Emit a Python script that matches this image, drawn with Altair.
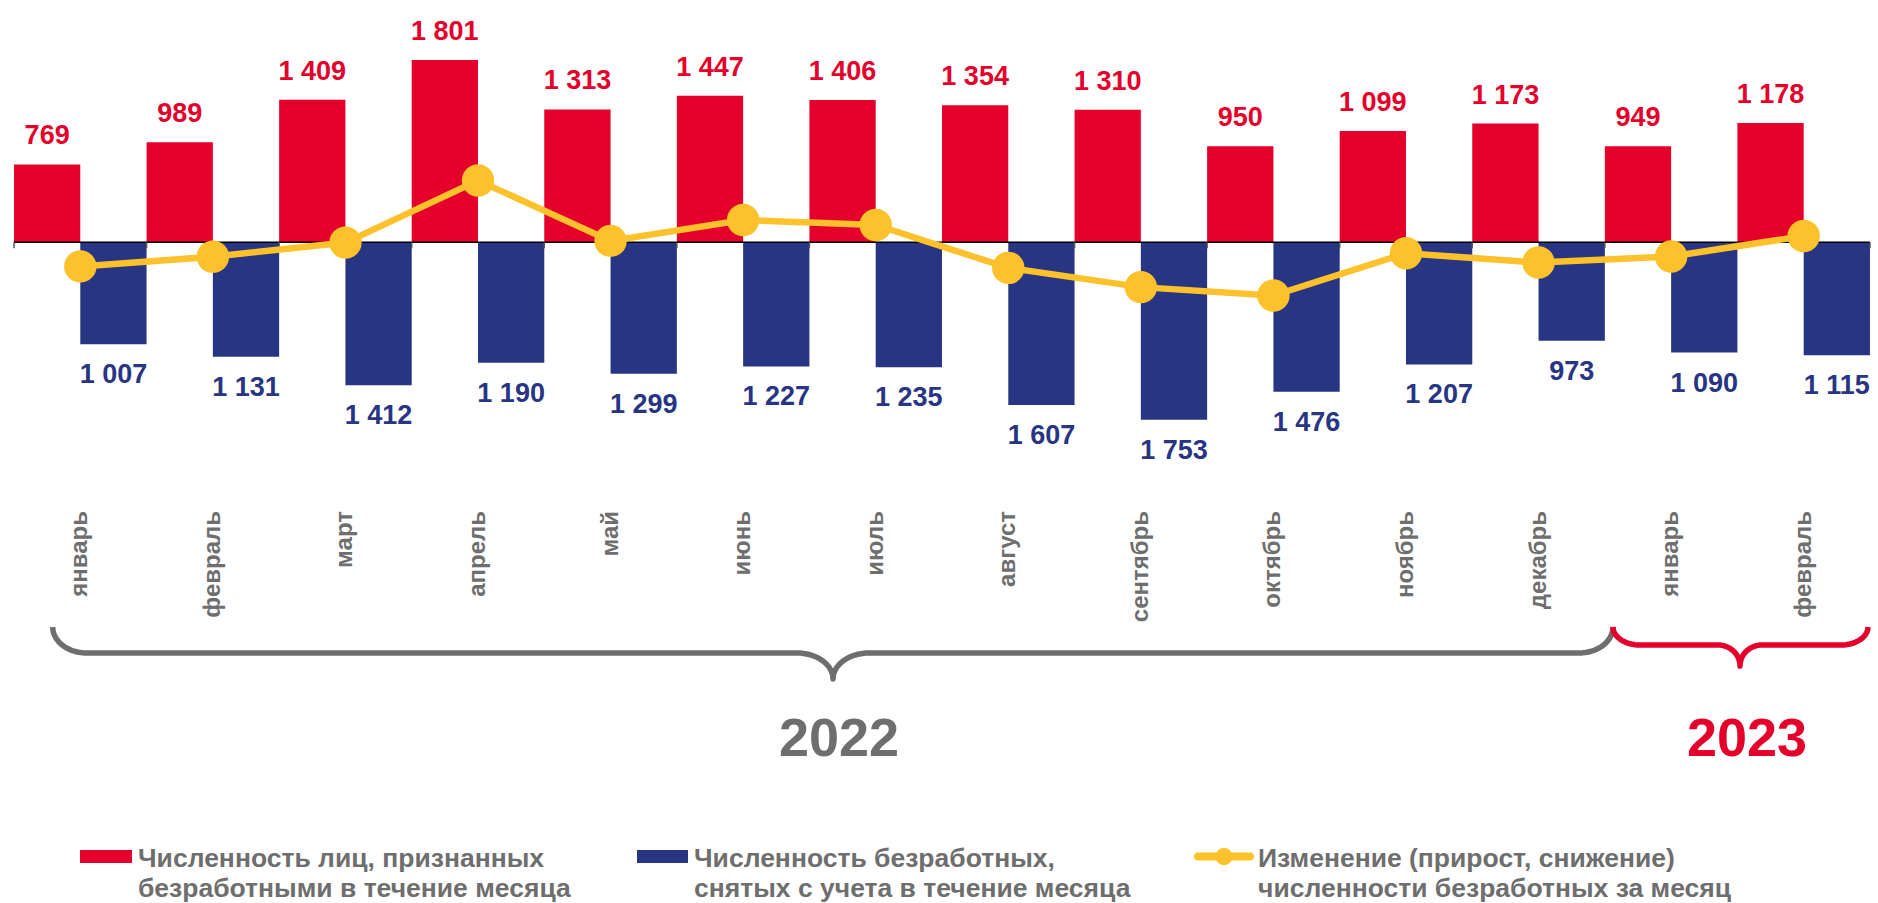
import altair as alt
import pandas as pd
import numpy as np

# ---------------- data ----------------
months = ["январь", "февраль", "март", "апрель", "май", "июнь", "июль", "август",
          "сентябрь", "октябрь", "ноябрь", "декабрь", "январь", "февраль"]
recognized = [769, 989, 1409, 1801, 1313, 1447, 1406, 1354, 1310, 950, 1099, 1173, 949, 1178]
removed = [1007, 1131, 1412, 1190, 1299, 1227, 1235, 1607, 1753, 1476, 1207, 973, 1090, 1115]
change = [-238, -142, -3, 611, 14, 220, 171, -253, -443, -526, -108, -200, -141, 63]
years = ["2022", "2023"]
legend_labels = [
    "Численность лиц, признанных\nбезработными в течение месяца",
    "Численность безработных,\nснятых с учета в течение месяца",
    "Изменение (прирост, снижение)\nчисленности безработных за месяц",
]

# ---------------- style ----------------
RED = "#E4002B"
BLUE = "#283583"
YELLOW = "#FDC22B"
GRAY = "#6E6E6E"
FONT = "Liberation Sans"

W, H = 1878, 903
X0_PX, SLOT_PX = 14.0, 132.57      # left edge of first slot, slot width
ZERO_PX, K = 242.3, 0.1012          # zero line position, px per unit

x_dom = [-X0_PX / SLOT_PX, (W - X0_PX) / SLOT_PX]
y_dom = [-(H - ZERO_PX) / K, ZERO_PX / K]
xs = alt.Scale(domain=x_dom, nice=False, zero=False)
ys = alt.Scale(domain=y_dom, nice=False, zero=False)


def px_x(px):
    return (px - X0_PX) / SLOT_PX


def px_y(py):
    return (ZERO_PX - py) / K


n = len(months)
df = pd.DataFrame({
    "i": np.arange(n),
    "month": months,
    "rec": recognized,
    "rem": removed,
    "chg": change,
})
df["xa"] = df["i"]
df["xm"] = df["i"] + 0.5
df["xb"] = df["i"] + 1.0
df["neg"] = -df["rem"]
df["xr"] = df["i"] + 0.25
df["xl"] = df["i"] + 0.75
df["zero"] = 0.0

base = alt.Chart(df)
fmt = "replace(format(datum.v, ','), ',', ' ')"

X = lambda f: alt.X(f, scale=xs, axis=None)
Y = lambda f: alt.Y(f, scale=ys, axis=None)

red_bars = base.mark_rect(color=RED).encode(x=X("xa:Q"), x2="xm:Q", y=Y("rec:Q"), y2="zero:Q")
blue_bars = base.mark_rect(color=BLUE).encode(x=X("xm:Q"), x2="xb:Q", y=Y("neg:Q"), y2="zero:Q")

axis_df = pd.DataFrame({"x0": [0.0], "x1": [float(n)], "y0": [0.0]})
zero_line = alt.Chart(axis_df).mark_rule(color="#000000", strokeWidth=1.5).encode(
    x=X("x0:Q"), x2="x1:Q", y=Y("y0:Q"))

tick_df = pd.DataFrame({"b": np.arange(n + 1, dtype=float)})
tick_df["t0"] = 0.0
tick_df["t1"] = -6 / K
ticks = alt.Chart(tick_df).mark_rule(color="#555555", strokeWidth=1.5).encode(
    x=X("b:Q"), y=Y("t0:Q"), y2="t1:Q")

line = base.mark_line(color=YELLOW, strokeWidth=6.5).encode(
    x=X("xm:Q"), y=Y("chg:Q"), order="i:Q")
dots = base.mark_point(filled=True, color=YELLOW, opacity=1, size=1050, shape="circle").encode(
    x=X("xm:Q"), y=Y("chg:Q"))

red_lbl = base.transform_calculate(v="datum.rec").transform_calculate(lbl=fmt).mark_text(
    color=RED, font=FONT, fontSize=27, fontWeight="bold", baseline="alphabetic", dy=-20).encode(
    x=X("xr:Q"), y=Y("rec:Q"), text="lbl:N")
blue_lbl = base.transform_calculate(v="datum.rem").transform_calculate(lbl=fmt).mark_text(
    color=BLUE, font=FONT, fontSize=27, fontWeight="bold", baseline="alphabetic", dy=39).encode(
    x=X("xl:Q"), y=Y("neg:Q"), text="lbl:N")

month_lbl = base.mark_text(
    color=GRAY, font=FONT, fontSize=24, fontWeight="bold", angle=270,
    align="right", baseline="middle").encode(
    x=X("xm:Q"), y=alt.value(511), text="month:N")


# ---------------- braces ----------------
def brace(x1, x2, xt, top, mid, tip, ra, rb):
    """curly brace in pixel space; ra: end-curve width, rb: tip-curve width"""
    t = np.linspace(0, np.pi / 2, 18)
    pts = []
    # left end: from (x1, top) down and right to (x1+ra, mid)
    cx = x1 + ra
    pts += list(zip(cx - ra * np.cos(t), top + (mid - top) * np.sin(t)))
    # left half of tip: from (xt-rb, mid) to (xt, tip)
    cx = xt - rb
    pts += list(zip(cx + rb * np.sin(t), tip - (tip - mid) * np.cos(t)))
    # right half of tip: from (xt, tip) to (xt+rb, mid)
    cx = xt + rb
    pts += list(zip(cx - rb * np.cos(t), tip - (tip - mid) * np.sin(t)))
    # right end: from (x2-ra, mid) up to (x2, top)
    cx = x2 - ra
    pts += list(zip(cx + ra * np.sin(t), top + (mid - top) * np.cos(t)))
    out = pd.DataFrame(pts, columns=["px", "py"])
    out["o"] = np.arange(len(out))
    out["bx"] = px_x(out["px"])
    out["by"] = px_y(out["py"])
    return out


b22 = brace(52.7, 1613, 833, 627, 653, 679, 34, 36)
b23 = brace(1613, 1868, 1740, 627, 645, 666, 27, 22)


def brace_layer(d, color):
    return alt.Chart(d).mark_line(color=color, strokeWidth=5.5, strokeJoin="round").encode(
        x=X("bx:Q"), y=Y("by:Q"), order="o:Q")


brace22 = brace_layer(b22, GRAY)
brace23 = brace_layer(b23, RED)

year_df = pd.DataFrame({"year": years})
year22 = alt.Chart(year_df.iloc[[0]]).mark_text(
    color=GRAY, font=FONT, fontSize=54, fontWeight="bold", baseline="alphabetic", align="center").encode(
    x=alt.value(839), y=alt.value(756), text="year:N")
year23 = alt.Chart(year_df.iloc[[1]]).mark_text(
    color=RED, font=FONT, fontSize=54, fontWeight="bold", baseline="alphabetic", align="center").encode(
    x=alt.value(1747), y=alt.value(756), text="year:N")

# ---------------- legend ----------------
leg_df = pd.DataFrame({"label": legend_labels})
one = pd.DataFrame({"a": [0]})
leg_red = alt.Chart(one).mark_rect(color=RED).encode(
    x=alt.value(80), x2=alt.value(132), y=alt.value(850), y2=alt.value(863))
leg_blue = alt.Chart(one).mark_rect(color=BLUE).encode(
    x=alt.value(637), x2=alt.value(688), y=alt.value(850), y2=alt.value(863))
leg_line = alt.Chart(one).mark_rule(color=YELLOW, strokeWidth=8, strokeCap="round").encode(
    x=alt.value(1198), x2=alt.value(1250), y=alt.value(856.5))
leg_dot = alt.Chart(one).mark_point(filled=True, color=YELLOW, opacity=1, size=300, shape="circle").encode(
    x=alt.value(1224), y=alt.value(856.5))


def leg_text(k, xpx):
    return alt.Chart(leg_df.iloc[[k]]).mark_text(
        color=GRAY, font=FONT, fontSize=26.5, fontWeight="bold", align="left",
        baseline="alphabetic", lineBreak="\n", lineHeight=30).encode(
        x=alt.value(xpx), y=alt.value(867), text="label:N")


legend = [leg_red, leg_blue, leg_line, leg_dot,
          leg_text(0, 138), leg_text(1, 694), leg_text(2, 1258)]

chart = alt.layer(
    red_bars, blue_bars, zero_line, ticks, line, dots, red_lbl, blue_lbl, month_lbl,
    brace22, brace23, year22, year23, *legend
).properties(
    width=W, height=H, autosize="none", padding=0
).configure_view(stroke=None)

chart.save("out.html", embed_options={"renderer": "svg", "actions": False})
